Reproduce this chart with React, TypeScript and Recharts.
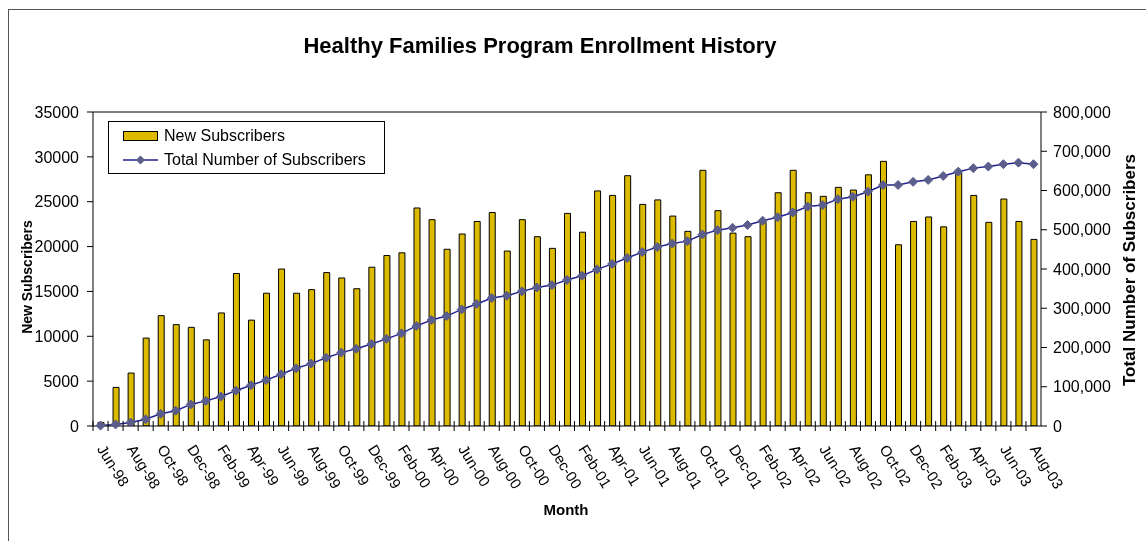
import React from 'react';
import { ComposedChart, Bar, Line, XAxis, YAxis, ReferenceLine } from 'recharts';

const months = [
  'Jun-98', 'Jul-98', 'Aug-98', 'Sep-98', 'Oct-98', 'Nov-98', 'Dec-98',
  'Jan-99', 'Feb-99', 'Mar-99', 'Apr-99', 'May-99', 'Jun-99', 'Jul-99', 'Aug-99', 'Sep-99', 'Oct-99', 'Nov-99', 'Dec-99',
  'Jan-00', 'Feb-00', 'Mar-00', 'Apr-00', 'May-00', 'Jun-00', 'Jul-00', 'Aug-00', 'Sep-00', 'Oct-00', 'Nov-00', 'Dec-00',
  'Jan-01', 'Feb-01', 'Mar-01', 'Apr-01', 'May-01', 'Jun-01', 'Jul-01', 'Aug-01', 'Sep-01', 'Oct-01', 'Nov-01', 'Dec-01',
  'Jan-02', 'Feb-02', 'Mar-02', 'Apr-02', 'May-02', 'Jun-02', 'Jul-02', 'Aug-02', 'Sep-02', 'Oct-02', 'Nov-02', 'Dec-02',
  'Jan-03', 'Feb-03', 'Mar-03', 'Apr-03', 'May-03', 'Jun-03', 'Jul-03', 'Aug-03',
];

const newSubscribers = [
  400, 4300, 5900, 9800, 12300, 11300, 11000,
  9600, 12600, 17000, 11800, 14800, 17500, 14800, 15200, 17100, 16500, 15300, 17700,
  19000, 19300, 24300, 23000, 19700, 21400, 22800, 23800, 19500, 23000, 21100, 19800,
  23700, 21600, 26200, 25700, 27900, 24700, 25200, 23400, 21700, 28500, 24000, 21500,
  21100, 22700, 26000, 28500, 26000, 25600, 26600, 26300, 28000, 29500, 20200, 22800,
  23300, 22200, 28200, 25700, 22700, 25300, 22800, 20800,
];

const totalSubscribers = [
  1000, 4000, 9000, 17000, 31000, 39000, 55000,
  64000, 75000, 90000, 104000, 117000, 132000, 147000, 159000, 174000, 187000, 197000, 209000,
  222000, 236000, 255000, 270000, 280000, 297000, 311000, 326000, 332000, 343000, 353000, 359000,
  372000, 383000, 399000, 413000, 428000, 443000, 456000, 465000, 471000, 488000, 499000, 505000,
  512000, 523000, 532000, 544000, 559000, 563000, 578000, 584000, 597000, 614000, 614000, 622000,
  627000, 637000, 648000, 657000, 661000, 667000, 671000, 667000,
];

const leftTicks = [0, 5000, 10000, 15000, 20000, 25000, 30000, 35000];
const rightTicks = [0, 100000, 200000, 300000, 400000, 500000, 600000, 700000, 800000];

const FONT = '"Liberation Sans", Arial, Helvetica, sans-serif';
const BAR_COLOR = '#DBBA00';
const LINE_COLOR = '#23238F';
const MARKER_COLOR = '#5B5E8C';

const chartData = months.map((m, i) => ({
  month: m,
  newSubs: newSubscribers[i],
  total: totalSubscribers[i],
}));

const MonthTick = (props: any) => {
  const { x, y, payload, index, width, visibleTicksCount } = props;
  const band = width && visibleTicksCount ? width / visibleTicksCount : 15;
  const lx = x - 4;
  const ly = y + 23;
  return (
    <g>
      <line x1={x - band / 2} x2={x - band / 2} y1={y - 5} y2={y + 5} stroke="#000" />
      {index % 2 === 0 && (
        <text x={lx} y={ly} transform={`rotate(58, ${lx}, ${ly})`} fontSize={15} fontFamily={FONT} fill="#000" textAnchor="start">
          {payload.value}
        </text>
      )}
    </g>
  );
};

const Diamond = (props: any) => {
  const { cx, cy, index } = props;
  if (cx == null || cy == null) return <g key={`d-${index}`} />;
  const r = 4.5;
  return (
    <polygon
      key={`d-${index}`}
      points={`${cx},${cy - r} ${cx + r},${cy} ${cx},${cy + r} ${cx - r},${cy}`}
      fill={MARKER_COLOR}
      stroke={MARKER_COLOR}
    />
  );
};

const App = () => {
  return (
    <div style={{ position: 'relative', width: 1130, height: 525, overflow: 'hidden', fontFamily: FONT }}>
      {/* outer chart frame, runs off the right and bottom of the page like the original */}
      <div style={{ position: 'fixed', left: 8, top: 9, right: -10, bottom: -10, borderLeft: '1px solid #555', borderTop: '1px solid #555', pointerEvents: 'none' }} />
      <ComposedChart
        width={1130}
        height={525}
        data={chartData}
        margin={{ top: 104, right: 17, bottom: 47, left: 25 }}
      >
        <XAxis
          dataKey="month"
          xAxisId="x"
          interval={0}
          tickLine={false}
          tickSize={0}
          tickMargin={0}
          height={60}
          axisLine={{ stroke: '#000' }}
          tick={<MonthTick />}
        />
        <YAxis
          yAxisId="left"
          domain={[0, 35000]}
          ticks={leftTicks}
          width={60}
          tickSize={6}
          tickMargin={8}
          axisLine={{ stroke: '#000' }}
          tickLine={{ stroke: '#000' }}
          tick={{ fill: '#000', fontSize: 16, fontFamily: FONT }}
          allowDataOverflow
        />
        <YAxis
          yAxisId="right"
          orientation="right"
          domain={[0, 800000]}
          ticks={rightTicks}
          width={80}
          tickSize={6}
          tickMargin={6}
          axisLine={{ stroke: '#000' }}
          tickLine={{ stroke: '#000' }}
          tick={{ fill: '#000', fontSize: 16, fontFamily: FONT }}
          tickFormatter={(v: number) => v.toLocaleString('en-US')}
        />
        <ReferenceLine yAxisId="left" xAxisId="x" y={35000} stroke="#000" />
        <Bar
          dataKey="newSubs"
          xAxisId="x"
          yAxisId="left"
          barSize={6}
          fill={BAR_COLOR}
          stroke="#000"
          strokeWidth={1}
          isAnimationActive={false}
        />
        <Line
          dataKey="total"
          xAxisId="x"
          yAxisId="right"
          type="linear"
          stroke={LINE_COLOR}
          strokeWidth={1.5}
          dot={Diamond}
          activeDot={false}
          isAnimationActive={false}
        />
      </ComposedChart>

      <div style={{ position: 'absolute', left: 0, width: 1064, top: 25, textAlign: 'center', fontSize: 22, fontWeight: 'bold', color: '#000' }}>
        Healthy Families Program Enrollment History
      </div>

      <div style={{ position: 'absolute', left: 458, width: 200, top: 493, textAlign: 'center', fontSize: 15, fontWeight: 'bold', color: '#000' }}>
        Month
      </div>

      <div style={{ position: 'absolute', left: 19 - 100, top: 269 - 10, width: 200, height: 20, lineHeight: '20px', textAlign: 'center', fontSize: 14, fontWeight: 'bold', transform: 'rotate(-90deg)', color: '#000' }}>
        New Subscribers
      </div>

      <div style={{ position: 'absolute', left: 1122 - 150, top: 262 - 11, width: 300, height: 22, lineHeight: '22px', textAlign: 'center', fontSize: 17, fontWeight: 'bold', transform: 'rotate(-90deg)', color: '#000' }}>
        Total Number of Subscribers
      </div>

      <div style={{ position: 'absolute', left: 100, top: 113, width: 275, height: 51, border: '1px solid #000', background: '#fff', fontSize: 16, color: '#000' }}>
        <div style={{ position: 'absolute', left: 14, top: 4, display: 'flex', alignItems: 'center', height: 20 }}>
          <svg width={36} height={12} style={{ marginRight: 5 }}>
            <rect x={0.5} y={1.5} width={34} height={9} fill={BAR_COLOR} stroke="#000" />
          </svg>
          <span>New Subscribers</span>
        </div>
        <div style={{ position: 'absolute', left: 14, top: 28, display: 'flex', alignItems: 'center', height: 20 }}>
          <svg width={36} height={12} style={{ marginRight: 5 }}>
            <line x1={0} x2={35} y1={6} y2={6} stroke={LINE_COLOR} strokeWidth={1.5} />
            <polygon points="17.5,1.5 22,6 17.5,10.5 13,6" fill={MARKER_COLOR} />
          </svg>
          <span>Total Number of Subscribers</span>
        </div>
      </div>
    </div>
  );
};

export default App;
